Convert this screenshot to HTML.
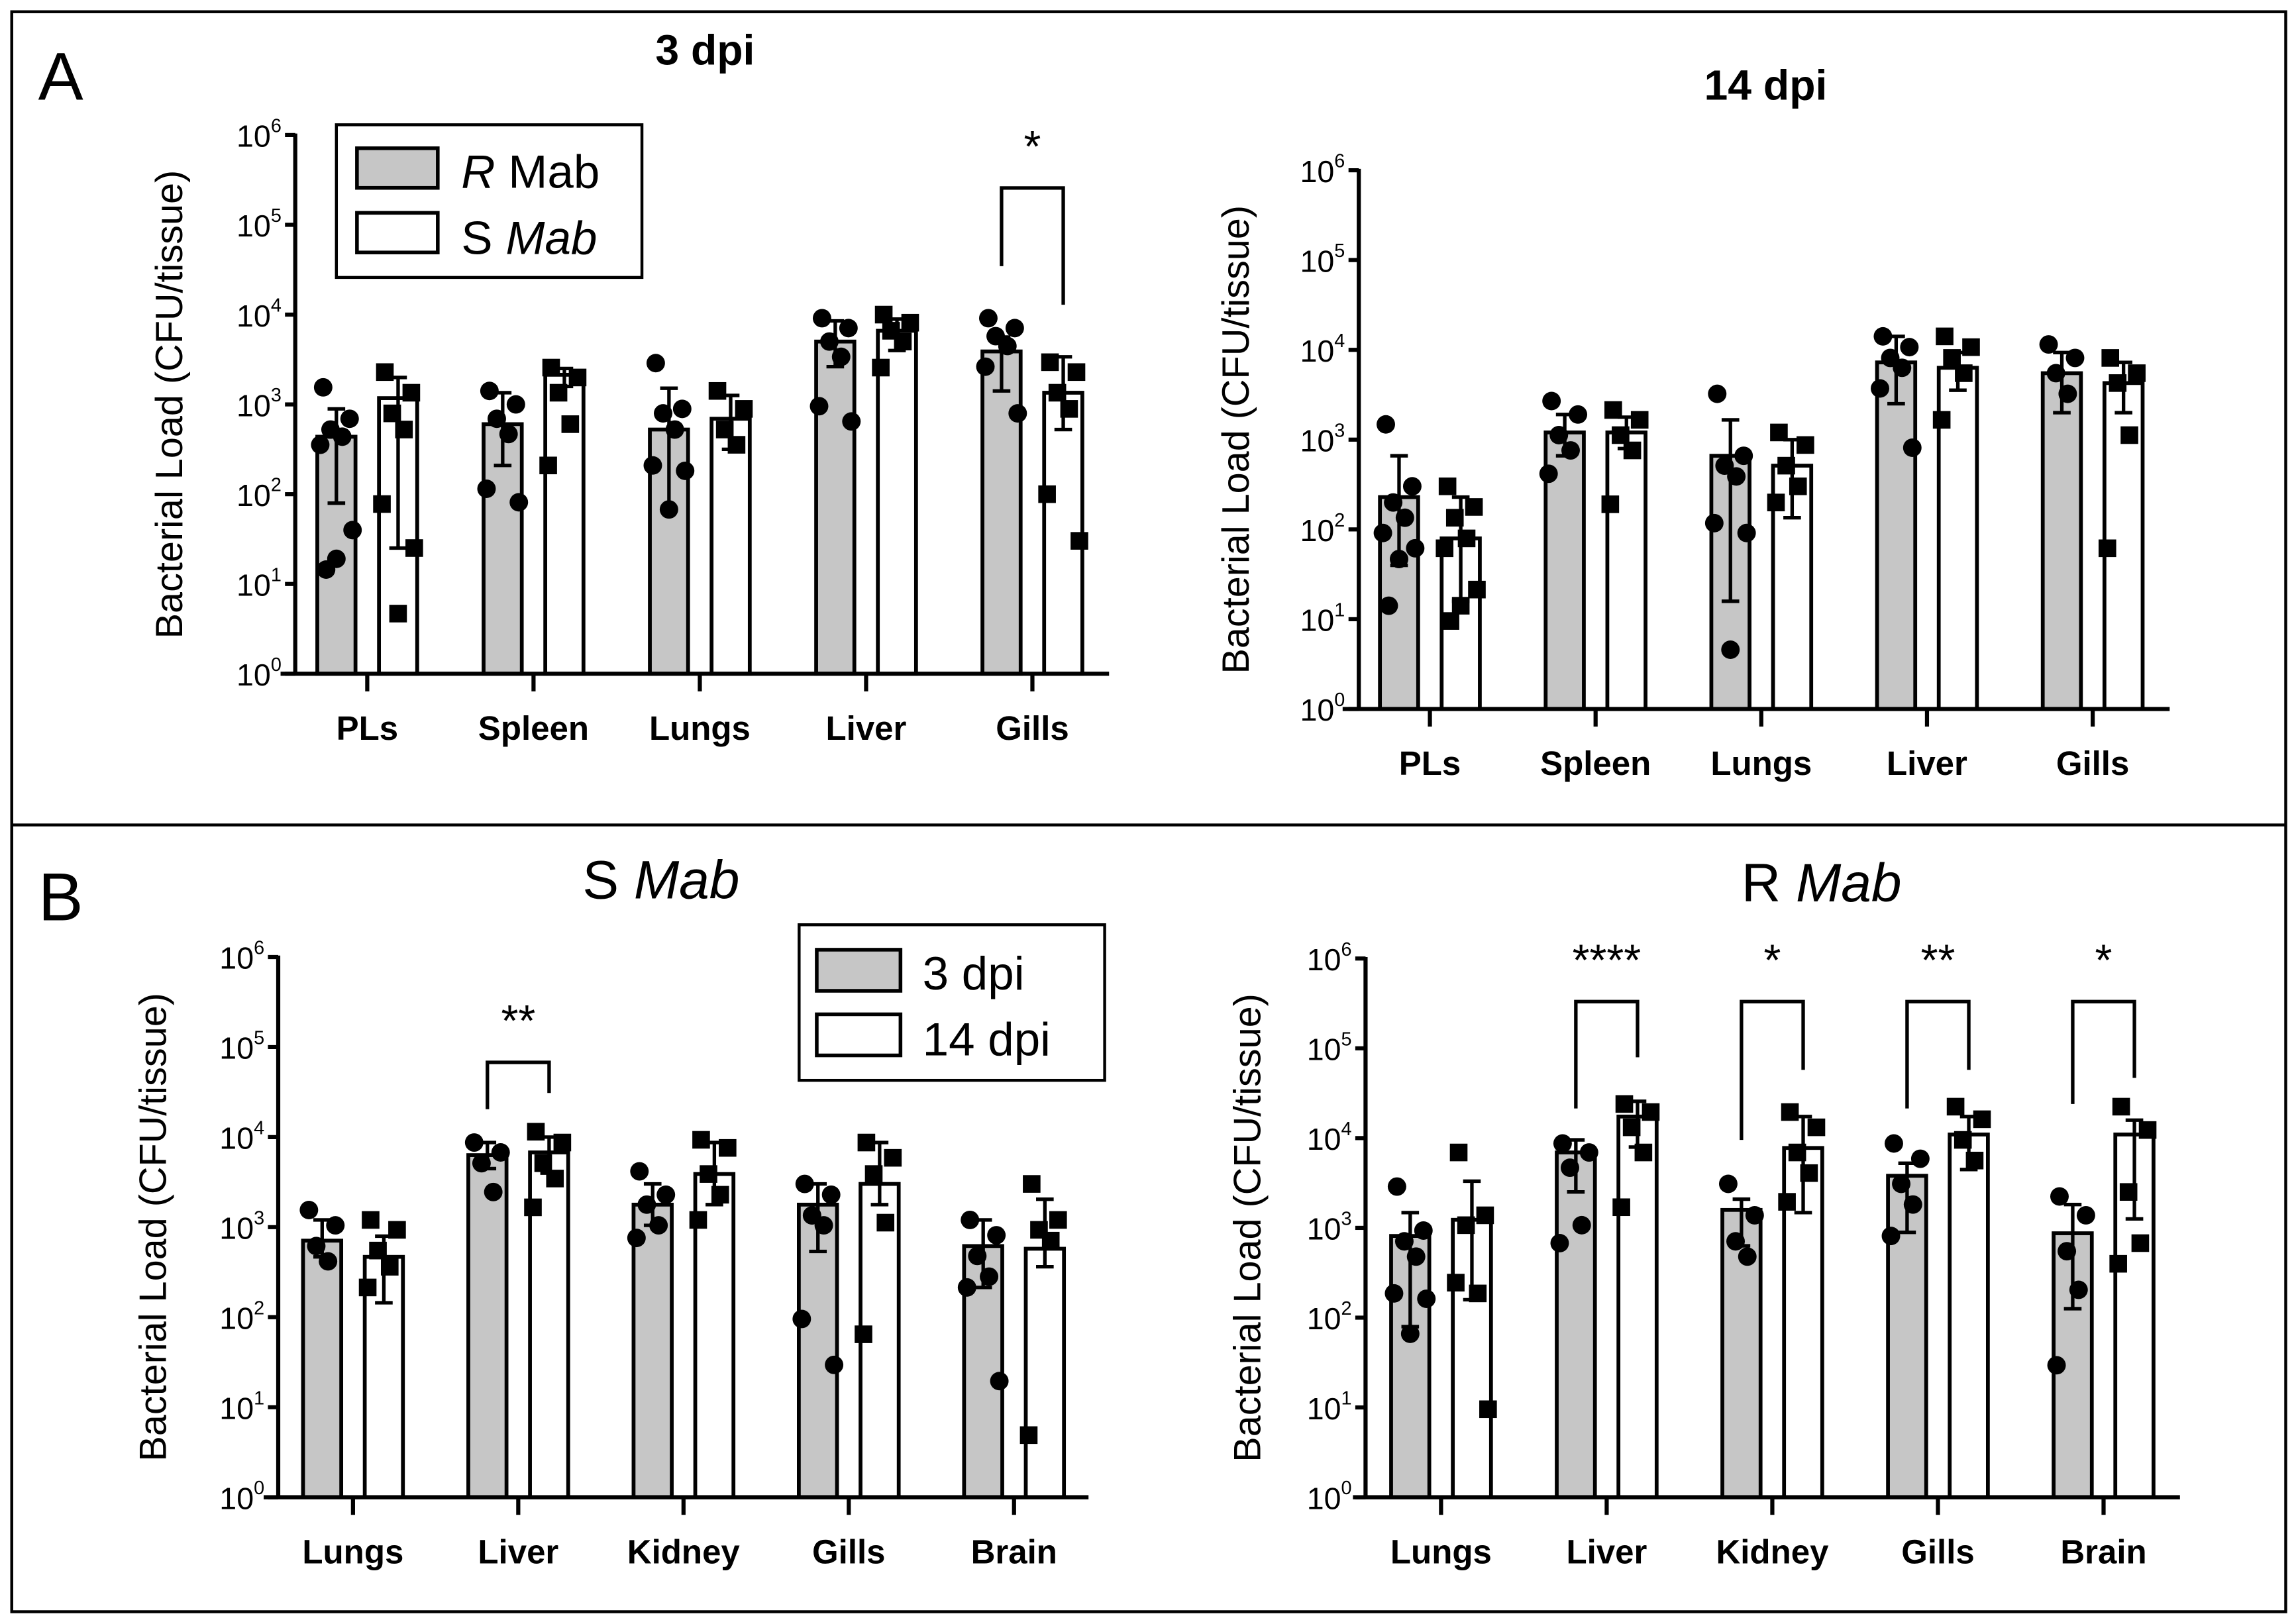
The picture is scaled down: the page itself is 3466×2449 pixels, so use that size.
<!DOCTYPE html>
<html><head><meta charset="utf-8"><style>
html,body{margin:0;padding:0;background:#fff;}
svg{display:block;}
text{font-family:"Liberation Sans",Arial,sans-serif;fill:#000;}
</style></head><body>
<svg id="fig" width="3466" height="2449" viewBox="0 0 1563 1105" preserveAspectRatio="none" xmlns="http://www.w3.org/2000/svg">
<rect x="8" y="8" width="1548" height="1090" fill="#fff" stroke="#000" stroke-width="2"/>
<line x1="8" y1="562" x2="1556" y2="562" stroke="#000" stroke-width="2"/>
<text x="26" y="68" font-size="46">A</text>
<text x="26" y="627" font-size="46">B</text>
<text x="480" y="44" font-size="29" font-weight="bold" text-anchor="middle">3 dpi</text>
<text x="1202" y="68" font-size="29" font-weight="bold" text-anchor="middle">14 dpi</text>
<text x="450" y="612" font-size="37" text-anchor="middle">S <tspan font-style="italic">Mab</tspan></text>
<text x="1240" y="614" font-size="37" text-anchor="middle">R <tspan font-style="italic">Mab</tspan></text>
<g>
<rect x="229" y="85" width="208" height="104" fill="#fff" stroke="#000" stroke-width="2"/>
<rect x="243" y="101" width="55" height="27" fill="#c6c6c6" stroke="#000" stroke-width="2.5"/>
<rect x="243" y="145" width="55" height="27" fill="#fff" stroke="#000" stroke-width="2.5"/>
<text x="314" y="128" font-size="32"><tspan font-style="italic">R</tspan> Mab</text>
<text x="314" y="173" font-size="32">S <tspan font-style="italic">Mab</tspan></text>
</g>
<g>
<rect x="544" y="630" width="208" height="106" fill="#fff" stroke="#000" stroke-width="2"/>
<rect x="556" y="647" width="57" height="28" fill="#c6c6c6" stroke="#000" stroke-width="2.5"/>
<rect x="556" y="691" width="57" height="28" fill="#fff" stroke="#000" stroke-width="2.5"/>
<text x="628" y="674" font-size="32">3 dpi</text>
<text x="628" y="719" font-size="32">14 dpi</text>
</g>
</svg>
<script>
// ===== Chart A-left: 3 dpi (R Mab vs S Mab), values as log10 CFU =====
const aLeftCategories = ["PLs","Spleen","Lungs","Liver","Gills"];
const aLeftMeanR = [2.64, 2.78, 2.72, 3.70, 3.59];
const aLeftMeanS = [3.07, 3.33, 2.84, 3.82, 3.13];
const aLeftErrR = [[1.9,2.95],[2.32,3.13],[1.83,3.18],[3.42,3.93],[3.15,3.75]];
const aLeftErrS = [[1.4,3.3],[3.2,3.4],[2.5,3.1],[3.6,3.95],[2.72,3.53]];
const aLeftPtsR = [[3.19,2.84,2.72,2.64,2.55,1.6,1.28,1.16],[3.15,3.0,2.84,2.67,2.06,1.91],[3.46,2.95,2.9,2.72,2.32,2.26,1.83],[3.96,3.85,3.7,3.53,2.98,2.81],[3.96,3.85,3.76,3.65,3.42,2.9]];
const aLeftPtsS = [[3.36,3.13,2.9,2.72,1.89,1.4,0.67],[3.41,3.3,3.13,2.78,2.32],[3.15,2.95,2.72,2.55],[4.0,3.91,3.82,3.7,3.41],[3.47,3.36,3.13,2.95,2.0,1.48]];
// ===== Chart A-right: 14 dpi =====
const aRightCategories = ["PLs","Spleen","Lungs","Liver","Gills"];
const aRightMeanR = [2.36, 3.08, 2.82, 3.86, 3.74];
const aRightMeanS = [1.90, 3.08, 2.71, 3.80, 3.63];
const aRightErrR = [[1.6,2.82],[2.82,3.28],[1.2,3.22],[3.4,4.15],[3.3,3.97]];
const aRightErrS = [[1.2,2.36],[2.9,3.25],[2.13,3.0],[3.55,3.97],[3.3,3.86]];
const aRightPtsR = [[3.17,2.48,2.3,2.13,1.96,1.79,1.67,1.15],[3.43,3.28,3.05,2.88,2.62],[3.51,2.82,2.71,2.59,2.07,1.96,0.66],[4.15,4.03,3.91,3.8,3.57,2.91],[4.06,3.91,3.74,3.51]];
const aRightPtsS = [[2.48,2.25,2.13,1.9,1.79,1.33,1.15,0.98],[3.33,3.22,3.05,2.88,2.28],[3.08,2.94,2.71,2.48,2.3],[4.15,4.03,3.91,3.74,3.22],[3.91,3.74,3.63,3.05,1.79]];
// ===== Chart B-left: S Mab (3 dpi vs 14 dpi) =====
const bLeftCategories = ["Lungs","Liver","Kidney","Gills","Brain"];
const bLeftMean3 = [2.85, 3.80, 3.25, 3.25, 2.79];
const bLeftMean14 = [2.67, 3.83, 3.59, 3.48, 2.76];
const bLeftErr3 = [[2.67,3.08],[3.65,3.94],[3.02,3.48],[2.73,3.48],[2.33,3.08]];
const bLeftErr14 = [[2.16,2.9],[3.6,4.0],[3.25,3.94],[3.25,3.94],[2.56,3.31]];
const bLeftPts3 = [[3.19,3.02,2.79,2.62],[3.94,3.83,3.71,3.39],[3.62,3.36,3.25,3.02,2.88],[3.48,3.36,3.13,3.02,1.98,1.47],[3.08,2.91,2.68,2.45,2.33,1.29]];
const bLeftPts14 = [[3.08,2.97,2.74,2.56,2.33],[4.06,3.94,3.71,3.54,3.22],[3.97,3.88,3.59,3.36,3.08],[3.94,3.77,3.59,3.05,1.81],[3.48,3.08,2.97,2.85,0.69]];
// ===== Chart B-right: R Mab =====
const bRightCategories = ["Lungs","Liver","Kidney","Gills","Brain"];
const bRightMean3 = [2.91, 3.84, 3.20, 3.58, 2.94];
const bRightMean14 = [3.09, 4.24, 3.89, 4.04, 4.04];
const bRightErr3 = [[1.9,3.17],[3.4,3.98],[2.8,3.32],[2.95,3.72],[2.1,3.26]];
const bRightErr14 = [[2.2,3.52],[3.9,4.41],[3.17,4.24],[3.65,4.24],[3.1,4.2]];
const bRightPts3 = [[3.46,2.97,2.85,2.68,2.27,2.21,1.82],[3.94,3.84,3.67,3.03,2.83],[3.49,3.14,2.85,2.68],[3.94,3.77,3.49,3.26,2.91],[3.35,3.14,2.74,2.31,1.47]];
const bRightPts14 = [[3.84,3.14,3.03,2.27,2.39,0.98],[4.38,4.29,4.12,3.84,3.23],[4.29,4.12,3.84,3.61,3.29],[4.35,4.21,3.98,3.75],[4.35,4.09,3.4,2.83,2.6]];
// significance brackets: [categoryIndex, topLog, leftLegLog, rightLegLog, label]
const aLeftSig = [[4, 5.41, 4.54, 4.11, "*"]];
const bLeftSig = [[1, 4.83, 4.31, 4.49, "**"]];
const bRightSig = [[1,5.52,4.33,4.9,"****"],[2,5.52,3.98,4.76,"*"],[3,5.52,4.33,4.76,"**"],[4,5.52,4.38,4.67,"*"]];

const NS = "http://www.w3.org/2000/svg";
const svg = document.getElementById("fig");
function mk(tag, attrs, parent){const e=document.createElementNS(NS,tag);for(const k in attrs)e.setAttribute(k,attrs[k]);(parent||svg).appendChild(e);return e;}
const jit = [-9,9,-4,4,-11,11,0,-7,7];

function drawChart(id, L, cats, m1, m2, e1, e2, p1, p2, sig){
  const g = mk("g",{});
  
  
  const y = v => L.y0 + (L.y6 - L.y0) * v / 6;
  const x = i => L.t0 + i * L.step;
  const half = 21, bw = 26;
  cats.forEach((c,i)=>{
    [[m1,e1,p1,"#c6c6c6",-half,"circle"],[m2,e2,p2,"#fff",half,"square"]].forEach((s,si)=>{
      const cx = x(i)+s[4];
      const bar = mk("rect",{x:cx-bw/2,y:y(s[0][i]),width:bw,height:y(0)-y(s[0][i]),fill:s[3],stroke:"#000","stroke-width":2.6},g);
      
      
      s[2][i].forEach((v,k)=>{
        const px = cx + jit[k%jit.length];
        let d;
        if(s[5]==="circle") d = mk("circle",{cx:px,cy:y(v),r:6.3,fill:"#000"},g);
        else d = mk("rect",{x:px-6,y:y(v)-6,width:12,height:12,fill:"#000"},g);
        
        
      });
      const eb = mk("path",{d:`M${cx},${y(s[1][i][0])}V${y(s[1][i][1])}M${cx-6},${y(s[1][i][1])}H${cx+6}M${cx-6},${y(s[1][i][0])}H${cx+6}`,stroke:"#000","stroke-width":2.4,fill:"none"},g);
      
      
    });
  });
  const ya = mk("line",{x1:L.ax,y1:y(6)-1,x2:L.ax,y2:y(0),stroke:"#000","stroke-width":2.8},g);
  
  
  const xa = mk("line",{x1:L.xs,y1:y(0),x2:L.xe,y2:y(0),stroke:"#000","stroke-width":2.8},g);
  
  
  for(let k=0;k<=6;k++){
    mk("line",{x1:L.ax-7,y1:y(k),x2:L.ax,y2:y(k),stroke:"#000","stroke-width":2.8},g);
    const t = mk("text",{x:L.ax-40,y:y(k)+8,"font-size":21},g);
    
    
    t.textContent = "10";
    const sup = mk("tspan",{dy:-10,"font-size":13},t); sup.textContent = String(k);
  }
  cats.forEach((c,i)=>{
    mk("line",{x1:x(i),y1:y(0),x2:x(i),y2:y(0)+12,stroke:"#000","stroke-width":2.8},g);
    const t = mk("text",{x:x(i),y:y(0)+45,"font-size":23,"font-weight":"bold","text-anchor":"middle"},g);
    
    
    t.textContent = c;
  });
  const yt = mk("text",{x:0,y:0,"font-size":26,"text-anchor":"middle",transform:`translate(${L.ylx},${(y(0)+y(6))/2}) rotate(-90)`},g);
  
  
  yt.textContent = "Bacterial Load (CFU/tissue)";
  (sig||[]).forEach(s=>{
    const xl = x(s[0])-half, xr = x(s[0])+half;
    const b = mk("path",{d:`M${xl},${y(s[2])}V${y(s[1])}H${xr}V${y(s[3])}`,stroke:"#000","stroke-width":2.4,fill:"none"},g);
    
    
    const st = mk("text",{x:x(s[0]),y:y(s[1])-18,"font-size":30,"text-anchor":"middle"},g);
    
    
    st.textContent = s[4];
  });
}
drawChart("chart-a-3dpi",{ax:201,y6:92,y0:459,t0:250,step:113.2,xs:191,xe:755,ylx:124},aLeftCategories,aLeftMeanR,aLeftMeanS,aLeftErrR,aLeftErrS,aLeftPtsR,aLeftPtsS,aLeftSig);
drawChart("chart-a-14dpi",{ax:925,y6:116,y0:483,t0:973.4,step:112.8,xs:914,xe:1477,ylx:850},aRightCategories,aRightMeanR,aRightMeanS,aRightErrR,aRightErrS,aRightPtsR,aRightPtsS,null);
drawChart("chart-b-s-mab",{ax:189.4,y6:652,y0:1020,t0:240.3,step:112.5,xs:179.5,xe:741,ylx:113},bLeftCategories,bLeftMean3,bLeftMean14,bLeftErr3,bLeftErr14,bLeftPts3,bLeftPts14,bLeftSig);
drawChart("chart-b-r-mab",{ax:929.6,y6:653,y0:1020,t0:981,step:112.75,xs:921,xe:1484,ylx:858},bRightCategories,bRightMean3,bRightMean14,bRightErr3,bRightErr14,bRightPts3,bRightPts14,bRightSig);
</script>
</body></html>
